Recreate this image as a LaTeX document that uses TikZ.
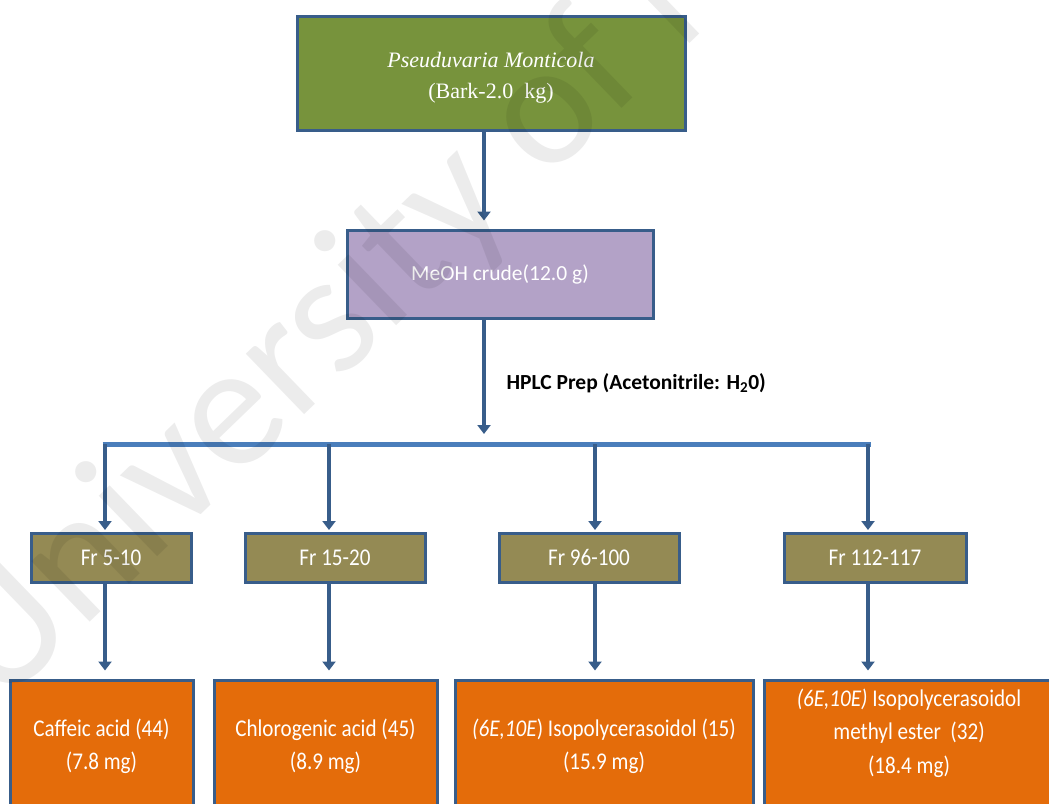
\documentclass[tikz,border=0pt]{standalone}
\usepackage{fontspec}
\setmainfont{Carlito}
\newfontfamily\serifface{Liberation Serif}
\newfontfamily\narrowface[FakeStretch=0.88]{Carlito}
\usetikzlibrary{arrows.meta}

\definecolor{edge}{HTML}{385D8A}
\definecolor{barblue}{HTML}{4A7EBB}
\definecolor{plantgreen}{HTML}{77933C}
\definecolor{crudepurple}{HTML}{B3A2C7}
\definecolor{fracolive}{HTML}{948A54}
\definecolor{prodorange}{HTML}{E46C0A}

\tikzset{
  box/.style={draw=edge, line width=3pt, text=white, align=center, inner sep=0pt},
  fracbox/.style={box, fill=fracolive, minimum height=49pt,
    font=\narrowface\fontsize{24}{30}\selectfont},
  prodbox/.style={box, fill=prodorange, minimum height=132pt,
    font=\narrowface\fontsize{24}{33.4}\selectfont},
  flow/.style={draw=edge, line width=4.5pt, -{Triangle[width=13pt,length=9pt]}},
  barline/.style={draw=barblue, line width=5pt}
}

\begin{document}
\begin{tikzpicture}[x=1pt, y=-1pt]
\path[use as bounding box] (0,0) rectangle (1049,803);
\clip (0,0) rectangle (1049,803);

% source material and crude extract
\node[box, fill=plantgreen, minimum width=388pt, minimum height=114pt] (src) at (491,73) {};
\node[align=center, text=white, font=\serifface\fontsize{22}{31}\selectfont] (srctext) at (491,78)
  {\itshape Pseuduvaria Monticola\\(Bark-2.0\ \ kg)};
\node[box, fill=crudepurple, minimum width=306pt, minimum height=88pt,
      font=\fontsize{21.5}{26}\selectfont] (crude) at (500,274)
  {MeOH crude(12.0 g)};

% main trunk
\coordinate (tr) at (484,0);
\coordinate (split) at (484,444);
\draw[flow, shorten >=8pt] (src.south -| tr) -- (crude.north -| tr);
\draw[flow, shorten >=10pt] (crude.south -| tr) -- (split);
\node[anchor=base west, font=\bfseries\fontsize{21.5}{26}\selectfont] (hplc) at (503,389)
  {HPLC Prep (Acetonitrile: H\textsubscript{2}0)};

% fractions
\node[fracbox, minimum width=160pt] (fr1) at (111,557.5) {Fr 5-10};
\node[fracbox, minimum width=180pt] (fr2) at (335,557.5) {Fr 15-20};
\node[fracbox, minimum width=180pt] (fr3) at (589,557.5) {Fr 96-100};
\node[fracbox, minimum width=182pt] (fr4) at (875,557.5) {Fr 112-117};

% isolated compounds
\node[prodbox, minimum width=183pt] (p1) at (101.5,746) {Caffeic acid (44)\\(7.8 mg)};
\node[prodbox, minimum width=223pt] (p2) at (325.5,746) {Chlorogenic acid (45)\\(8.9 mg)};
\node[prodbox, minimum width=298pt] (p3) at (604,746) {\textit{(6E,10E}) Isopolycerasoidol (15)\\(15.9 mg)};
\node[prodbox, minimum width=290pt] (p4) at (909,746) {};
\node[align=center, text=white, font=\narrowface\fontsize{24}{33.4}\selectfont] (p4text) at (909,733)
  {\textit{(6E,10E)} Isopolycerasoidol\\methyl ester\ \ (32)\\(18.4 mg)};

% distribution bar and branches
\coordinate (b1) at (105,444);
\coordinate (b2) at (329,444);
\coordinate (b3) at (595,444);
\coordinate (b4) at (868,444);
\draw[barline] ([xshift=-2.5pt]b1) -- ([xshift=2.5pt]b4);
\foreach \i in {1,2,3,4}{
  \draw[flow, shorten >=1.5pt] (b\i) -- (fr\i.north -| b\i);
  \draw[flow, shorten >=8pt] (fr\i.south -| b\i) -- (p\i.north -| b\i);
}

% watermark
\node[anchor=base west, rotate=44, text=black, text opacity=0.075,
      font=\fontsize{176}{176}\selectfont] (wm) at (-2,711) {University of Malaya};
\end{tikzpicture}
\end{document}
